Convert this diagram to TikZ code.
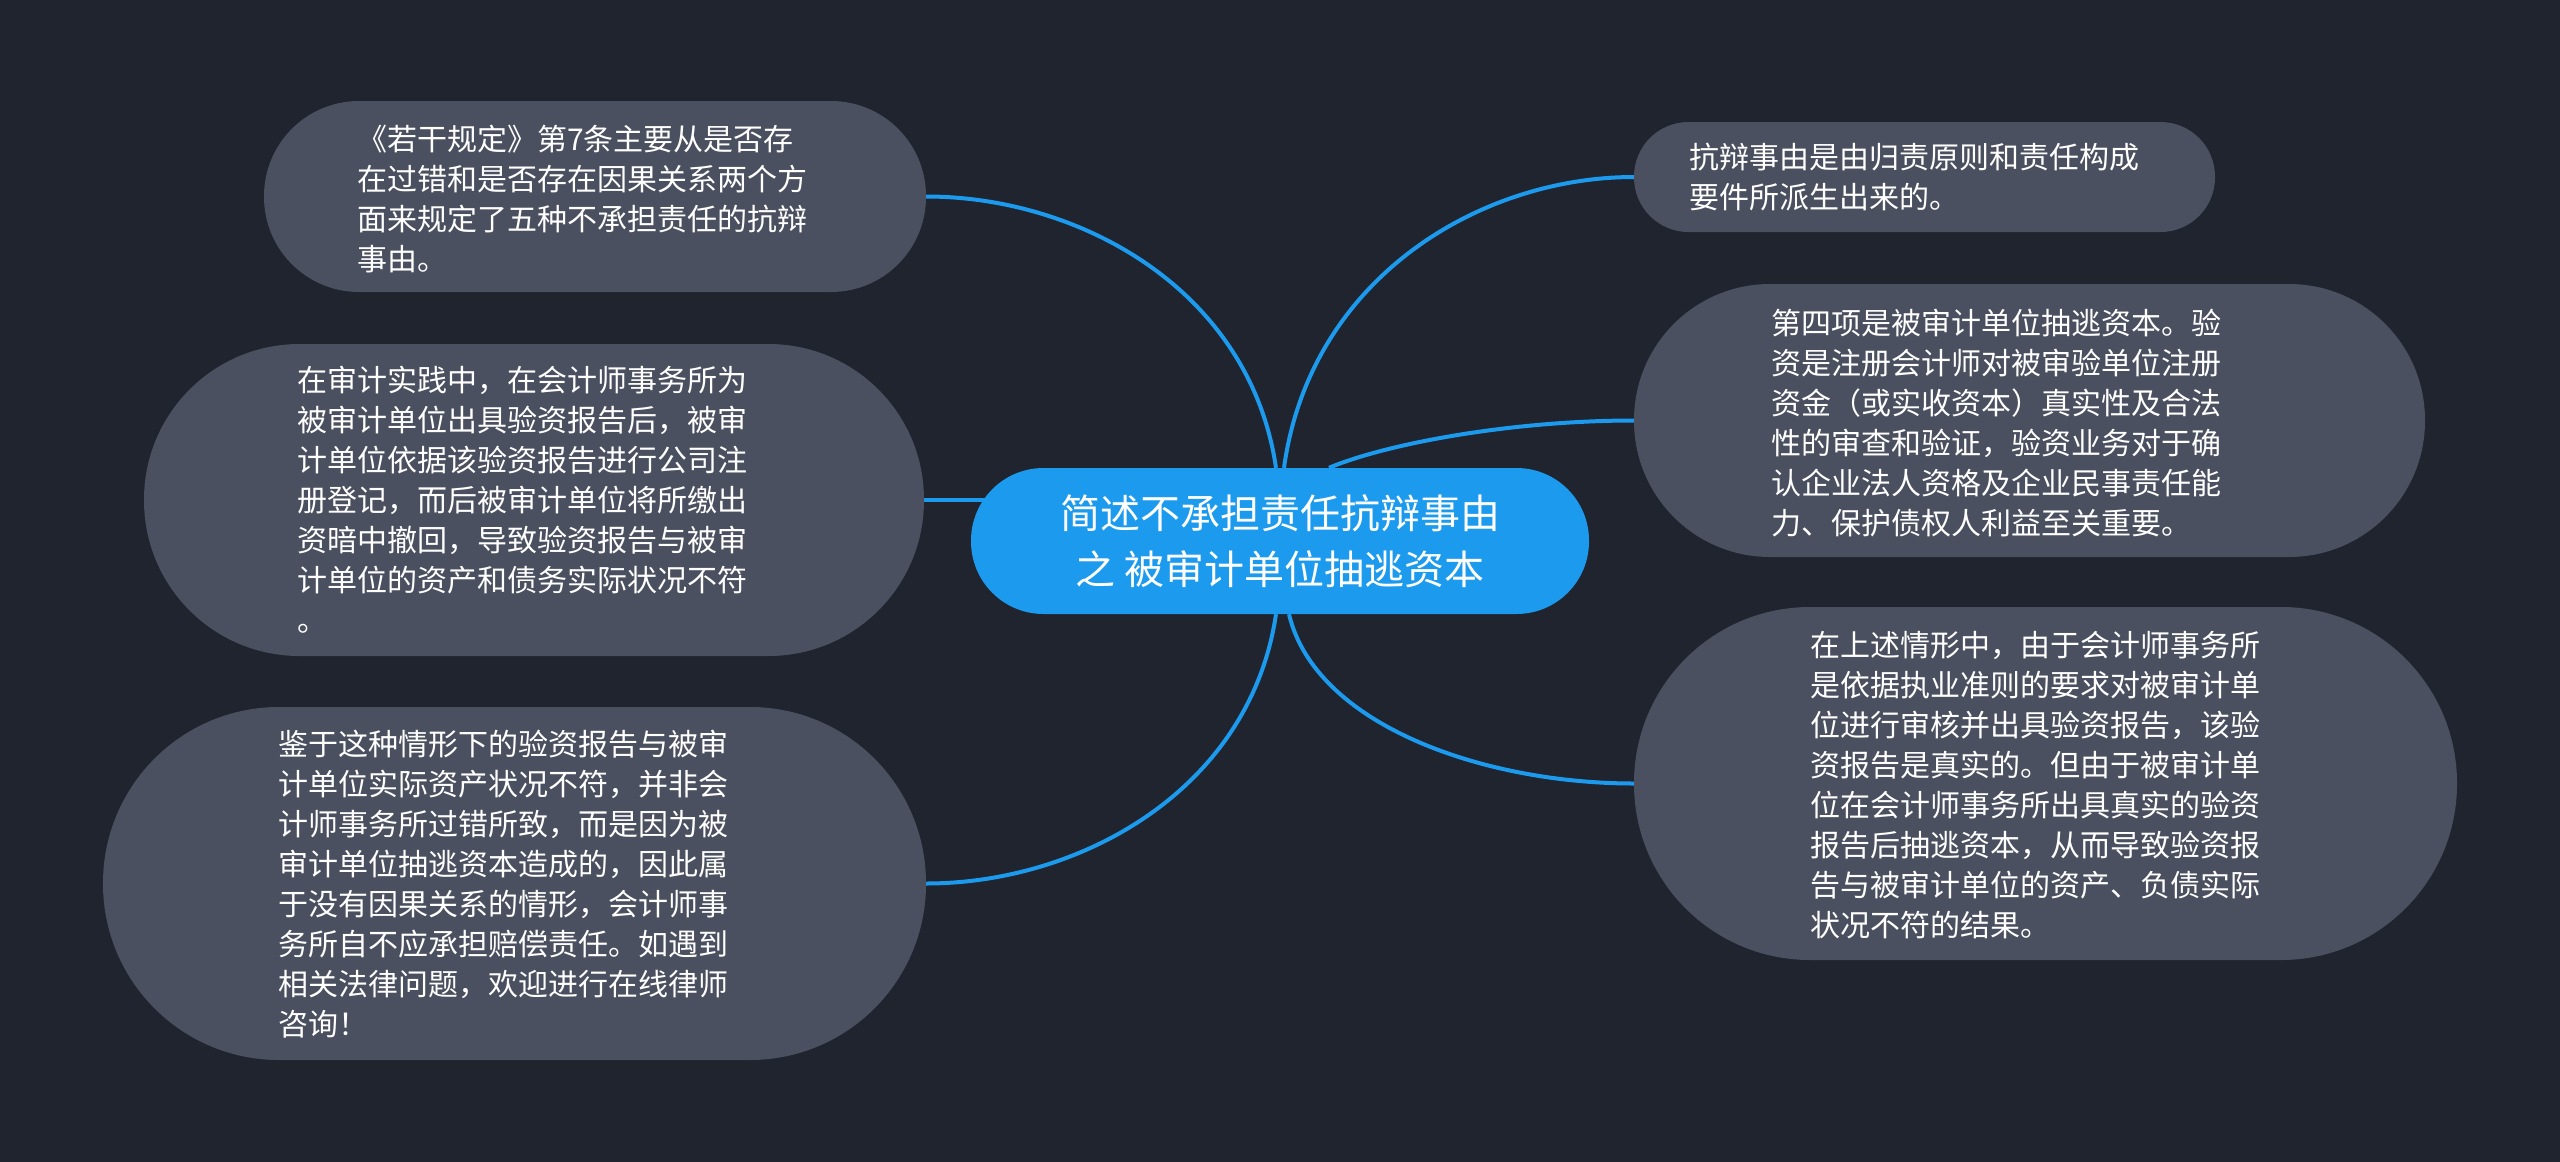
\documentclass[tikz,border=0pt]{standalone}
\usepackage{fontspec}
\setmainfont{Noto Sans CJK SC}
\definecolor{bgc}{RGB}{32,36,47}
\definecolor{leafc}{RGB}{74,80,95}
\definecolor{mainc}{RGB}{28,154,238}
\pgfdeclarelayer{bglayer}
\pgfdeclarelayer{linelayer}
\pgfsetlayers{bglayer,linelayer,main}
\begin{document}
\begin{tikzpicture}[x=1pt,y=-1pt,
  leaf/.style={fill=leafc, inner sep=0pt, outer sep=0pt, rectangle},
  leaftext/.style={text=white, inner sep=0pt, anchor=west, align=left,
    font=\fontsize{30pt}{40pt}\selectfont},
  link/.style={draw=mainc, line width=4pt}]
\begin{pgfonlayer}{bglayer}
\fill[bgc] (0,0) rectangle (2560,1162);
\end{pgfonlayer}
\useasboundingbox (0,0) rectangle (2560,1162);

% central node
\node[fill=mainc, rectangle, rounded corners=72.5pt, inner sep=0pt,
  minimum width=618pt, minimum height=146pt] (c) at (1280,541) {};
\node[text=white, align=center, inner sep=0pt,
  font=\fontsize{40pt}{56pt}\selectfont] (ct) at (1280,541)
  {简述不承担责任抗辩事由\\之 被审计单位抽逃资本};

% leaf boxes
\node[leaf, rounded corners=95pt, minimum width=662pt, minimum height=191pt] (tl) at (595,196.5) {};
\node[leaf, rounded corners=155.5pt, minimum width=780pt, minimum height=312pt] (ml) at (534,500) {};
\node[leaf, rounded corners=176pt, minimum width=823pt, minimum height=353pt] (bl) at (514.5,883.5) {};
\node[leaf, rounded corners=54.5pt, minimum width=581pt, minimum height=110pt] (tr) at (1924.5,177) {};
\node[leaf, rounded corners=136pt, minimum width=791pt, minimum height=273pt] (mr) at (2029.5,420.5) {};
\node[leaf, rounded corners=176pt, minimum width=823pt, minimum height=353pt] (br) at (2045.5,783.5) {};

% leaf texts
\node[leaftext] (tlt) at (357,199) {《若干规定》第7条主要从是否存\\在过错和是否存在因果关系两个方\\面来规定了五种不承担责任的抗辩\\事由。};
\node[leaftext] (mlt) at (297,500) {在审计实践中，在会计师事务所为\\被审计单位出具验资报告后，被审\\计单位依据该验资报告进行公司注\\册登记，而后被审计单位将所缴出\\资暗中撤回，导致验资报告与被审\\计单位的资产和债务实际状况不符\\。};
\node[leaftext] (blt) at (278,884) {鉴于这种情形下的验资报告与被审\\计单位实际资产状况不符，并非会\\计师事务所过错所致，而是因为被\\审计单位抽逃资本造成的，因此属\\于没有因果关系的情形，会计师事\\务所自不应承担赔偿责任。如遇到\\相关法律问题，欢迎进行在线律师\\咨询！};
\node[leaftext] (trt) at (1689,177) {抗辩事由是由归责原则和责任构成\\要件所派生出来的。};
\node[leaftext] (mrt) at (1771,423) {第四项是被审计单位抽逃资本。验\\资是注册会计师对被审验单位注册\\资金（或实收资本）真实性及合法\\性的审查和验证，验资业务对于确\\认企业法人资格及企业民事责任能\\力、保护债权人利益至关重要。};
\node[leaftext] (brt) at (1810,785) {在上述情形中，由于会计师事务所\\是依据执业准则的要求对被审计单\\位进行审核并出具验资报告，该验\\资报告是真实的。但由于被审计单\\位在会计师事务所出具真实的验资\\报告后抽逃资本，从而导致验资报\\告与被审计单位的资产、负债实际\\状况不符的结果。};

% connectors
\begin{pgfonlayer}{linelayer}
\draw[link] ([xshift=-4pt]c.north) .. controls +(-26,-177) and +(155,0) .. (tl.east);
\draw[link] (ml.east) -- (ml.east -| c.center);
\draw[link] ([xshift=-4pt]c.south) .. controls +(-26,175) and +(155,0) .. (bl.east);
\draw[link] ([xshift=4pt]c.north) .. controls +(26,-189) and +(-155,0) .. (tr.west);
\draw[link] ([xshift=49pt]c.north) .. controls +(60,-25) and +(-120,0) .. (mr.west);
\draw[link] ([xshift=9pt]c.south) .. controls +(26,110) and +(-152,0) .. (br.west);
\end{pgfonlayer}
\end{tikzpicture}
\end{document}
